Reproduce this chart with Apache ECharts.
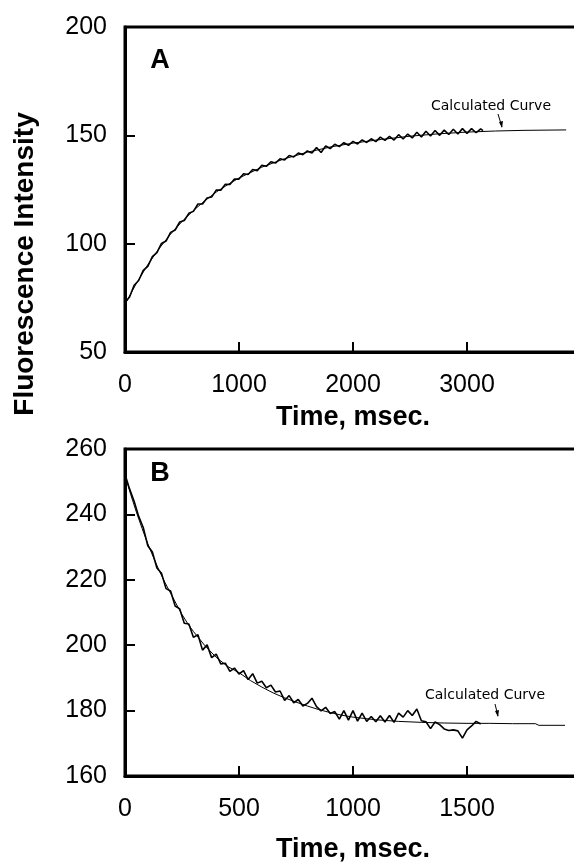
<!DOCTYPE html>
<html>
<head>
<meta charset="utf-8">
<script src="https://cdn.jsdelivr.net/npm/echarts@6/dist/echarts.min.js"></script>
<style>
  html, body { margin: 0; padding: 0; background: #fff; }
  #chart { width: 574px; height: 865px; }
</style>
</head>
<body>
<div id="chart"></div>
<script>
// panel A - rising trace
var timeA = [0, 40, 80, 120, 160, 200, 240, 280, 320, 360, 400, 440, 480, 520, 560, 600, 640, 680, 720, 760,
  800, 840, 880, 920, 960, 1000, 1040, 1080, 1120, 1160, 1200, 1240, 1280, 1320, 1360, 1400, 1440, 1480, 1520, 1560,
  1600, 1640, 1680, 1720, 1760, 1800, 1840, 1880, 1920, 1960, 2000, 2040, 2080, 2120, 2160, 2200, 2240, 2280, 2320, 2360,
  2400, 2440, 2480, 2520, 2560, 2600, 2640, 2680, 2720, 2760, 2800, 2840, 2880, 2920, 2960, 3000, 3040, 3080, 3120, 3140];
var traceA = [72.8, 75.4, 80.8, 83.0, 87.7, 89.5, 94.0, 95.9, 100.1, 101.2, 105.2, 106.3, 110.0, 110.7, 114.0, 114.9, 118.3, 118.3, 121.1, 121.5,
  124.7, 124.7, 127.4, 127.3, 129.8, 129.8, 132.3, 131.9, 134.2, 133.7, 136.2, 135.7, 137.8, 137.2, 139.2, 138.6, 140.7, 140.0, 141.8, 141.1,
  142.8, 141.8, 144.4, 142.1, 145.1, 143.9, 145.9, 144.8, 146.6, 145.4, 147.2, 146.0, 147.9, 146.7, 148.4, 147.1, 149.2, 147.7, 149.5, 147.8,
  150.3, 148.3, 150.6, 148.8, 151.4, 149.2, 151.9, 149.7, 152.2, 150.0, 152.4, 150.4, 152.8, 150.6, 153.1, 150.9, 153.1, 151.2, 153.0, 152.2];
var fitTimeA = [0, 100, 200, 300, 400, 500, 600, 700, 800, 900, 1000, 1200, 1400, 1600, 1800, 2000, 2250, 2500, 2750, 3000, 3250, 3500, 3870];
var fitA = [72.0, 81.7, 90.3, 97.8, 104.4, 110.2, 115.3, 119.8, 123.8, 127.2, 130.3, 135.3, 139.2, 142.2, 144.6, 146.4, 148.1, 149.6, 150.7, 151.5, 152.0, 152.3, 152.5];

// panel B - falling trace
var timeB = [0, 20, 40, 60, 80, 100, 120, 140, 160, 180, 200, 220, 240, 260, 280, 300, 320, 340, 360, 380,
  400, 420, 440, 460, 480, 500, 520, 540, 560, 580, 600, 620, 640, 660, 680, 700, 720, 740, 760, 780,
  800, 820, 840, 860, 880, 900, 920, 940, 960, 980, 1000, 1020, 1040, 1060, 1080, 1100, 1120, 1140, 1160, 1180,
  1200, 1220, 1240, 1260, 1280, 1300, 1320, 1340, 1360, 1380, 1400, 1420, 1440, 1460, 1480, 1500, 1520, 1540, 1560];
var traceB = [252.3, 247.8, 244.0, 239.4, 236.0, 230.4, 228.5, 223.6, 222.0, 217.3, 216.6, 212.0, 211.1, 206.7, 206.5, 202.4, 203.2, 198.5, 200.1, 196.2,
  197.3, 194.3, 194.5, 192.0, 193.0, 191.2, 192.2, 189.5, 191.3, 188.4, 189.0, 187.0, 187.8, 185.7, 186.0, 183.1, 184.6, 182.4, 183.4, 181.4,
  182.2, 183.8, 181.2, 179.9, 181.0, 179.1, 179.7, 177.4, 180.0, 177.1, 180.0, 176.8, 179.2, 176.7, 178.2, 176.6, 178.4, 176.5, 178.5, 176.4,
  179.2, 178.0, 180.0, 178.5, 180.5, 176.9, 176.6, 174.5, 176.5, 175.7, 174.4, 173.9, 174.1, 173.8, 171.6, 174.1, 175.3, 176.7, 175.9];
var fitTimeB = [0, 25, 50, 75, 100, 125, 150, 175, 200, 225, 250, 275, 300, 350, 400, 450, 500, 550, 600, 650,
  700, 750, 800, 850, 900, 950, 1000, 1100, 1200, 1300, 1400, 1500, 1600, 1700, 1800, 1815, 1930];
var fitB = [252.0, 246.1, 240.7, 235.7, 231.0, 226.8, 222.8, 219.2, 215.9, 212.6, 209.4, 206.6, 204.2, 199.9, 196.3, 193.5, 191.6, 189.2, 187.2, 185.4,
  183.9, 182.6, 181.4, 180.3, 179.4, 178.6, 178.0, 177.2, 176.7, 176.4, 176.2, 176.1, 176.1, 176.0, 176.0, 175.5, 175.5];

var ticksA = { min: 0, max: 4000, interval: 1000 };
var ticksB = { min: 0, max: 2000, interval: 500 };

function pairs(xs, ys) {
  return xs.map(function (x, i) { return [x, ys[i]]; });
}

var font = '"Liberation Sans", Arial, sans-serif';

function xAxisFor(idx, t, gap) {
  return {
    gridIndex: idx, type: 'value', min: t.min, max: t.max, interval: t.interval,
    name: 'Time, msec.', nameLocation: 'middle', nameGap: gap,
    nameTextStyle: { fontFamily: font, fontSize: 27, fontWeight: 'bold', color: '#000' },
    axisLine: { lineStyle: { color: '#000', width: 3 } },
    axisTick: { inside: true, length: 10, lineStyle: { color: '#000', width: 2 } },
    axisLabel: { fontFamily: font, fontSize: 25, color: '#000', margin: 21, showMaxLabel: false,
      formatter: function (v) { return String(v); } },
    splitLine: { show: false }
  };
}

function yAxisFor(idx, min, max, interval) {
  return {
    gridIndex: idx, type: 'value', min: min, max: max, interval: interval,
    axisLine: { show: true, lineStyle: { color: '#000', width: 3 } },
    axisTick: { show: true, inside: true, length: 10, lineStyle: { color: '#000', width: 2 } },
    axisLabel: { fontFamily: font, fontSize: 25, color: '#000', margin: 18 },
    splitLine: { show: false }
  };
}

function lineSeries(idx, data, w) {
  return {
    type: 'line', xAxisIndex: idx, yAxisIndex: idx, data: data,
    showSymbol: false, symbol: 'none', animation: false,
    lineStyle: { color: '#000', width: w }
  };
}

function arrow(x1, y1, x2, y2) {
  return [
    { type: 'line', shape: { x1: x1, y1: y1, x2: x2, y2: y2 }, style: { stroke: '#000', lineWidth: 1 } },
    { type: 'polygon', shape: { points: [[x2, y2 + 1], [x2 - 3, y2 - 5], [x2 + 1, y2 - 6]] }, style: { fill: '#000' } }
  ];
}

var chart = echarts.init(document.getElementById('chart'));
chart.setOption({
  backgroundColor: '#fff',
  animation: false,
  grid: [
    { left: 125, top: 27, width: 456, height: 325, outerBoundsMode: 'none', containLabel: false,
      show: true, borderColor: '#000', borderWidth: 3, backgroundColor: 'transparent' },
    { left: 125, top: 449, width: 456, height: 327, outerBoundsMode: 'none', containLabel: false,
      show: true, borderColor: '#000', borderWidth: 3, backgroundColor: 'transparent' }
  ],
  xAxis: [xAxisFor(0, ticksA, 52), xAxisFor(1, ticksB, 60)],
  yAxis: [yAxisFor(0, 50, 200, 50), yAxisFor(1, 160, 260, 20)],
  series: [
    lineSeries(0, pairs(timeA, traceA), 1.6),
    lineSeries(0, pairs(fitTimeA, fitA), 1),
    lineSeries(1, pairs(timeB, traceB), 1.6),
    lineSeries(1, pairs(fitTimeB, fitB), 1)
  ],
  graphic: [
    { type: 'text', x: 25, y: 264, rotation: Math.PI / 2,
      style: { text: 'Fluorescence Intensity', fontFamily: font, fontSize: 28, fontWeight: 'bold', fill: '#000', align: 'center', verticalAlign: 'middle' } },
    { type: 'text', x: 160, y: 61, style: { text: 'A', fontFamily: font, fontSize: 27, fontWeight: 'bold', fill: '#000', align: 'center', verticalAlign: 'middle' } },
    { type: 'text', x: 160, y: 474, style: { text: 'B', fontFamily: font, fontSize: 27, fontWeight: 'bold', fill: '#000', align: 'center', verticalAlign: 'middle' } },
    { type: 'text', x: 491, y: 106, style: { text: 'Calculated Curve', fontFamily: '"DejaVu Sans", sans-serif', fontSize: 14, fill: '#000', align: 'center', verticalAlign: 'middle' } },
    { type: 'text', x: 485, y: 695, style: { text: 'Calculated Curve', fontFamily: '"DejaVu Sans", sans-serif', fontSize: 14, fill: '#000', align: 'center', verticalAlign: 'middle' } }
  ].concat(arrow(498, 114, 502, 127)).concat(arrow(495, 704, 498, 716))
});
</script>
</body>
</html>
